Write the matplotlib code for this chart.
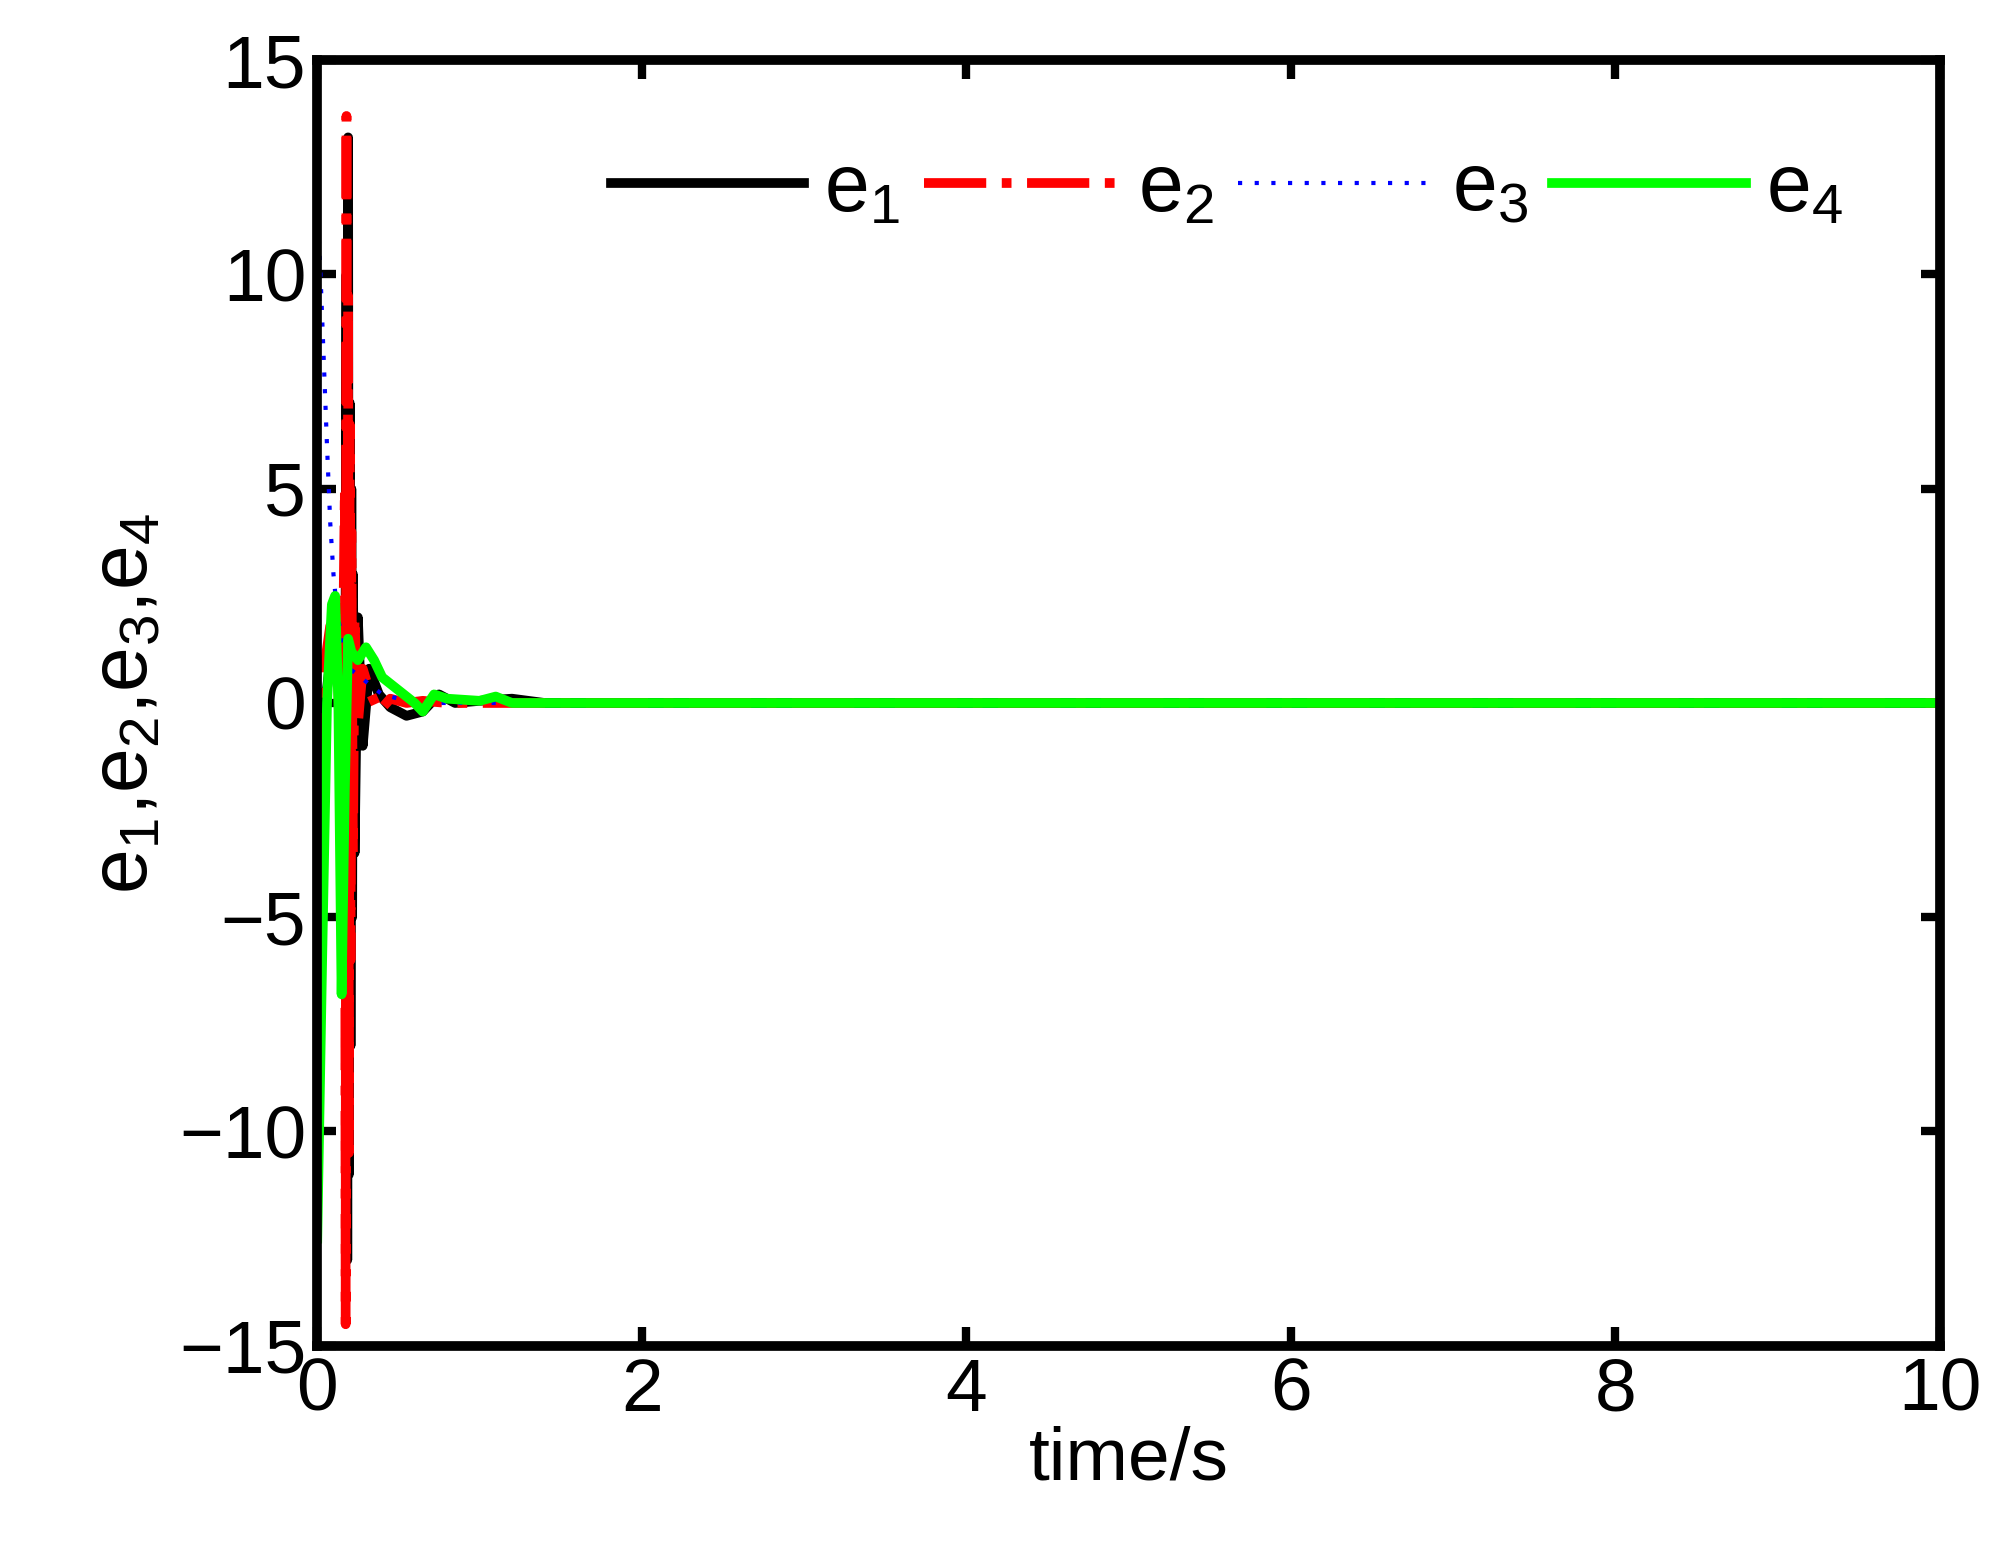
import matplotlib
matplotlib.use("Agg")
import matplotlib.pyplot as plt

t1 = [0.0, 0.02, 0.05, 0.08, 0.12, 0.15, 0.17, 0.18, 0.185, 0.19, 0.195, 0.2, 0.205, 0.21, 0.215, 0.22, 0.23, 0.25, 0.28, 0.32, 0.38, 0.45, 0.55, 0.65, 0.75, 0.85, 1.0, 1.2, 1.4, 10.0]
e1 = [-6.0, -2.0, 0.0, 1.0, 1.5, 1.0, -5.0, 10.0, -13.0, 13.2, -11.0, 7.0, -8.0, 5.0, -5.0, 3.0, -3.5, 2.0, -1.0, 0.8, 0.2, -0.1, -0.3, -0.2, 0.2, 0.0, 0.05, 0.1, 0.0, 0.0]
t2 = [0.0, 0.02, 0.05, 0.08, 0.12, 0.15, 0.17, 0.175, 0.18, 0.185, 0.19, 0.195, 0.2, 0.205, 0.21, 0.22, 0.23, 0.25, 0.28, 0.32, 0.38, 0.45, 0.55, 0.65, 0.8, 1.0, 1.2, 10.0]
e2 = [-6.5, -1.0, 1.0, 1.8, 1.5, -2.0, 5.0, -14.5, 13.7, -10.0, 9.5, -10.5, 6.5, -6.0, 4.0, -3.5, 2.0, -0.5, 0.8, 0.3, -0.2, 0.1, 0.0, 0.05, 0.0, 0.0, 0.0, 0.0]
t3 = [0.0, 0.02, 0.04, 0.06, 0.08, 0.1, 0.12, 0.15, 0.2, 0.3, 0.4, 0.6, 10.0]
e3 = [11.6, 10.0, 8.0, 6.0, 4.2, 3.0, 2.2, 1.5, 0.8, 0.5, 0.2, 0.0, 0.0]
t4 = [0.0, 0.03, 0.06, 0.09, 0.11, 0.13, 0.15, 0.17, 0.19, 0.21, 0.25, 0.3, 0.35, 0.4, 0.5, 0.6, 0.65, 0.72, 0.8, 1.0, 1.1, 1.2, 1.5, 10.0]
e4 = [-12.5, -6.0, 0.0, 2.3, 2.5, 0.0, -6.8, -2.0, 1.5, 1.2, 1.0, 1.3, 1.0, 0.6, 0.3, 0.0, -0.2, 0.2, 0.1, 0.05, 0.15, 0.0, 0.0, 0.0]

plt.rcParams['font.family'] = ['Liberation Sans', 'DejaVu Sans']
plt.rcParams['mathtext.fontset'] = 'custom'
plt.rcParams['mathtext.rm'] = 'Liberation Sans'
plt.rcParams['mathtext.it'] = 'Liberation Sans'
fig = plt.figure(figsize=(20.08, 15.45), dpi=100)
ax = fig.add_axes([0.158, 0.129, 0.808, 0.832])
ax.plot(t1, e1, color='black', lw=7, label='e$_{1}$')
ax.plot(t2, e2, color='red', lw=7, ls='-.', label='e$_{2}$')
ax.plot(t3, e3, color='blue', lw=3, ls=(0, (1, 3)), label='e$_{3}$')
ax.plot(t4, e4, color='#00ff00', lw=7, label='e$_{4}$')
ax.set_xlim(0, 10)
ax.set_ylim(-15, 15)
ax.set_xticks([0, 2, 4, 6, 8, 10])
ax.set_yticks([-15, -10, -5, 0, 5, 10, 15])
ax.set_yticklabels(['\u221215', '\u221210', '\u22125', '0', '5', '10', '15'])
ax.tick_params(labelsize=54, width=6, length=14, direction='in', top=True, right=True, pad=8)
for s in ax.spines.values():
    s.set_linewidth(7)
ax.set_xlabel('time/s', fontsize=54, labelpad=0)
ax.set_ylabel('e$_{1}$,e$_{2}$,e$_{3}$,e$_{4}$', fontsize=58, labelpad=10)
ax.legend(loc='upper right', ncol=4, frameon=False, fontsize=58, handlelength=2.4,
          columnspacing=0.3, handletextpad=0.25, bbox_to_anchor=(0.985, 0.985))
fig.savefig('out.png', dpi=100)
